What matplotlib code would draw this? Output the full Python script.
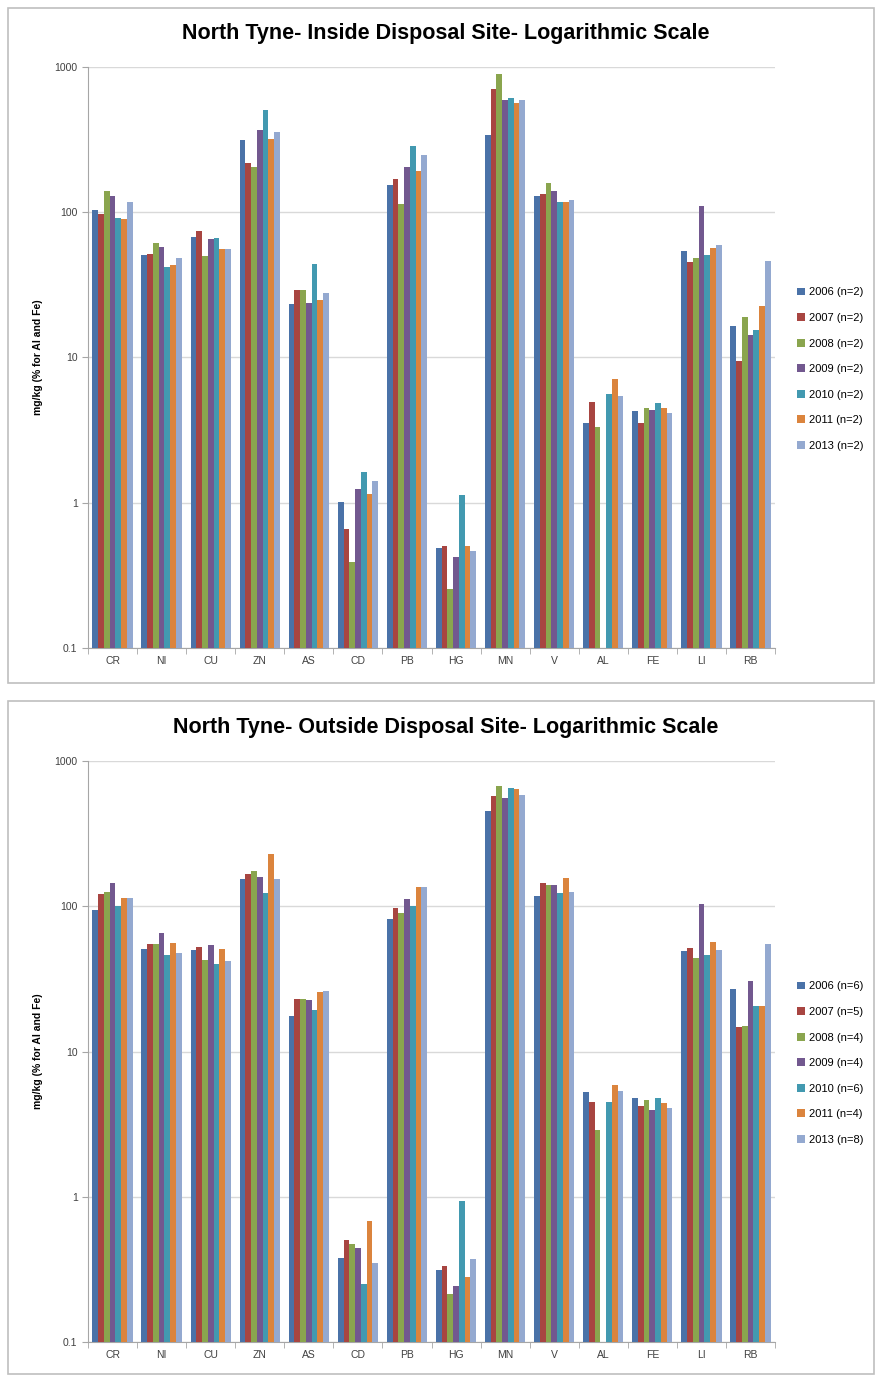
import numpy as np
import matplotlib
matplotlib.use("Agg")
import matplotlib.pyplot as plt
from matplotlib.patches import Rectangle
from matplotlib.ticker import FixedLocator, NullFormatter

plt.rcParams["font.family"] = ["Liberation Sans", "DejaVu Sans"]

ELEMENTS = ["CR", "NI", "CU", "ZN", "AS", "CD", "PB", "HG", "MN", "V", "AL", "FE", "LI", "RB"]
YEARS = ["2006", "2007", "2008", "2009", "2010", "2011", "2013"]
N_INSIDE = [2, 2, 2, 2, 2, 2, 2]
N_OUTSIDE = [6, 5, 4, 4, 6, 4, 8]
COLORS = ["#4a72a8", "#a84541", "#8aa54e", "#72588f", "#4299b0", "#db843d", "#94a9d0"]

# inside disposal site, one list per year, in ELEMENTS order
in_2006 = [103, 51, 67.6, 312, 23.3, 1.02, 153, 0.487, 341, 129, 3.52, 4.29, 54.4, 16.4]
in_2007 = [97, 52, 74.3, 219, 29.3, 0.655, 169, 0.505, 701, 134.5, 4.97, 3.56, 45.2, 9.4]
in_2008 = [139, 61, 49.7, 206, 29.3, 0.388, 114, 0.255, 899, 159, 3.34, 4.52, 48.2, 18.9]
in_2009 = [129, 57.4, 65.8, 368, 23.9, 1.24, 205, 0.424, 595, 140, np.nan, 4.33, 110.6, 14.3]
in_2010 = [91.4, 41.8, 66.5, 502, 44, 1.64, 288, 1.135, 615, 117, 5.65, 4.89, 50.8, 15.4]
in_2011 = [89.5, 43.3, 56.1, 320, 25, 1.14, 191, 0.505, 568, 117, 7.09, 4.47, 56.5, 22.5]
in_2013 = [117, 48.2, 56.1, 356, 27.8, 1.42, 249, 0.462, 595, 122, 5.44, 4.13, 59.2, 46.2]

# outside disposal site
out_2006 = [94.9, 50.6, 50.1, 154, 17.6, 0.380, 82.3, 0.313, 455, 117.8, 5.25, 4.82, 49.3, 27.1]
out_2007 = [121, 55.4, 52.2, 166, 22.9, 0.503, 98, 0.335, 574, 144, 4.5, 4.23, 51.4, 14.8]
out_2008 = [125.5, 55.4, 42.7, 175, 23, 0.472, 90.5, 0.214, 669, 139.5, 2.86, 4.6, 44, 15]
out_2009 = [144.7, 65.6, 54.2, 159, 22.5, 0.441, 111.7, 0.244, 556, 139.5, np.nan, 3.97, 103, 30.8]
out_2010 = [101, 46.3, 40.3, 123.5, 19.2, 0.249, 100, 0.929, 652, 123.5, 4.5, 4.77, 46.5, 20.6]
out_2011 = [114, 56, 50.6, 228, 25.7, 0.676, 135, 0.282, 642, 156, 5.87, 4.39, 57.1, 20.5]
out_2013 = [114, 47.5, 41.8, 154, 26.3, 0.351, 136.6, 0.371, 580, 124.8, 5.31, 4.09, 50.1, 55]

INSIDE = [in_2006, in_2007, in_2008, in_2009, in_2010, in_2011, in_2013]
OUTSIDE = [out_2006, out_2007, out_2008, out_2009, out_2010, out_2011, out_2013]

W, H = 875, 1376
fig = plt.figure(figsize=(W / 100, H / 100), dpi=100)


def px_axes(x0, y0, x1, y1):
    return fig.add_axes([x0 / W, 1 - y1 / H, (x1 - x0) / W, (y1 - y0) / H])


def draw_panel(frame, plot_box, title, series, ns, legend_y):
    fx0, fy0, fx1, fy1 = frame
    fig.patches.append(Rectangle((fx0 / W, 1 - fy1 / H), (fx1 - fx0) / W,
                                 (fy1 - fy0) / H, transform=fig.transFigure,
                                 fill=False, edgecolor="#bfbfbf", lw=1.2))
    ax = px_axes(*plot_box)
    x = np.arange(len(ELEMENTS))
    nb = len(series)
    bw = 0.82 / nb
    for i, (vals, n) in enumerate(zip(series, ns)):
        ax.bar(x + (i - (nb - 1) / 2) * bw, vals, width=bw, color=COLORS[i],
               label=f"{YEARS[i]} (n={n})", zorder=3, linewidth=0)
    ax.set_yscale("log")
    ax.set_ylim(0.1, 1000)
    ax.set_xlim(-0.5, len(ELEMENTS) - 0.5)
    ax.set_yticks([0.1, 1, 10, 100, 1000])
    ax.set_yticklabels(["0.1", "1", "10", "100", "1000"])
    ax.yaxis.set_minor_locator(FixedLocator([]))
    ax.set_xticks(x)
    ax.set_xticklabels(ELEMENTS)
    ax.xaxis.set_minor_locator(FixedLocator(np.arange(-0.5, len(ELEMENTS), 1)))
    ax.xaxis.set_minor_formatter(NullFormatter())
    ax.tick_params(axis="x", which="major", length=0, labelsize=7.5, pad=6,
                   colors="#404040")
    ax.tick_params(axis="x", which="minor", length=4, color="#a6a6a6")
    ax.tick_params(axis="y", which="major", length=4, labelsize=7.5,
                   color="#a6a6a6", labelcolor="#404040")
    ax.grid(axis="y", color="#d9d9d9", lw=1, zorder=0)
    for s in ("top", "right"):
        ax.spines[s].set_visible(False)
    for s in ("left", "bottom"):
        ax.spines[s].set_color("#a6a6a6")
    ax.set_ylabel("mg/kg (% for Al and Fe)", fontsize=7.5, fontweight="bold",
                  labelpad=8)
    fig.text(446 / W, 1 - (fy0 + 26) / H, title, ha="center", va="center",
             fontsize=15.5, fontweight="bold")
    ax.legend(loc="upper left", bbox_to_anchor=(793 / W, 1 - legend_y / H),
              bbox_transform=fig.transFigure, frameon=False, fontsize=8,
              handlelength=0.7, handleheight=0.7, handletextpad=0.3,
              labelspacing=1.4, borderaxespad=0)
    return ax


draw_panel((8, 8, 874, 683), (88, 67, 775, 648),
           "North Tyne- Inside Disposal Site- Logarithmic Scale",
           INSIDE, N_INSIDE, 283)
draw_panel((8, 701, 874, 1374), (88, 761, 775, 1342),
           "North Tyne- Outside Disposal Site- Logarithmic Scale",
           OUTSIDE, N_OUTSIDE, 977)

fig.savefig("out.png", dpi=100)
